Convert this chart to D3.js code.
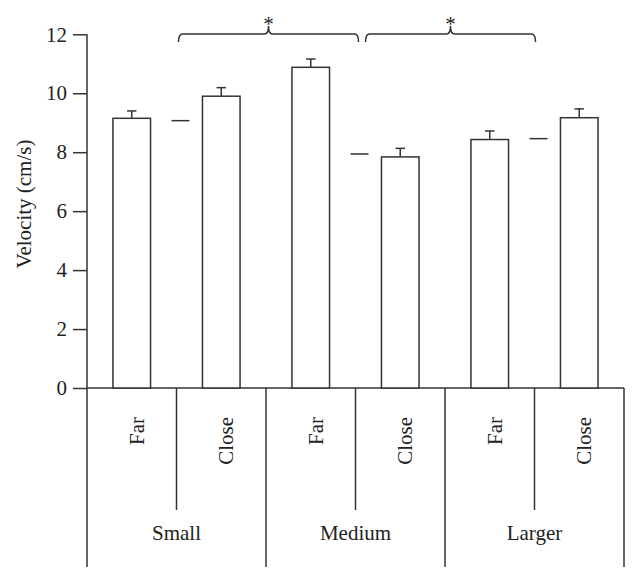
<!DOCTYPE html>
<html>
<head>
<meta charset="utf-8">
<script src="https://cdn.jsdelivr.net/npm/d3@7"></script>
<style>
  html, body { margin: 0; padding: 0; background: #fff; }
  text { font-family: "Liberation Serif", "Times New Roman", serif; fill: #222; }
</style>
</head>
<body>
<svg id="chart" width="639" height="584"></svg>
<script>
// ---- data ----
const sizes = ["Small", "Medium", "Larger"];
const distances = ["Far", "Close"];
const barLabels = ["Far", "Close", "Far", "Close", "Far", "Close"];
const barMeans = [9.15, 9.9, 10.88, 7.84, 8.43, 9.17];
const barErrors = [0.25, 0.29, 0.28, 0.29, 0.29, 0.30];
const groupMeans = [9.07, 7.94, 8.46];
const yTicks = [0, 2, 4, 6, 8, 10, 12];
const yLabel = "Velocity (cm/s)";
const sigPairs = [[0, 1], [1, 2]];   // brackets between group means
const sigLabel = "*";

// ---- layout ----
(function () {
const svg = d3.select("#chart");
const stroke = "#333";
const L = 87, R = 624, T = 34.3, B = 388;
const fs = 21;

const y = d3.scaleLinear().domain([0, 12]).range([B, T]);
const xBand = d3.scaleBand().domain(d3.range(barMeans.length)).range([L, R]).padding(0);
const xGroup = d3.scaleBand().domain(sizes).range([L, R]).padding(0);
const bw = xBand.bandwidth() * 0.42;
const bx = i => xBand(i) + xBand.bandwidth() / 2;

// y axis
const yAxis = d3.axisLeft(y).tickValues(yTicks).tickSize(14).tickPadding(6).tickFormat(d3.format("d"));
const gy = svg.append("g").attr("transform", `translate(${L},0)`).call(yAxis);
gy.select(".domain").attr("stroke", stroke).attr("stroke-width", 1.5).attr("d", `M0,${B}V${T}`);
gy.selectAll(".tick line").attr("stroke", stroke).attr("stroke-width", 1.5);
gy.selectAll(".tick text").style("font-family", "Liberation Serif, serif").style("font-size", fs + "px").attr("fill", "#222");

// y label
svg.append("text")
  .attr("transform", `translate(31,204) rotate(-90)`)
  .attr("text-anchor", "middle")
  .style("font-size", fs + "px")
  .text(yLabel);

// baseline
svg.append("line").attr("x1", L).attr("x2", R).attr("y1", B).attr("y2", B)
  .attr("stroke", stroke).attr("stroke-width", 1.5);

// bars
svg.append("g").selectAll("rect").data(barMeans).join("rect")
  .attr("x", (d, i) => bx(i) - bw / 2)
  .attr("y", d => y(d))
  .attr("width", bw)
  .attr("height", d => y(0) - y(d))
  .attr("fill", "#fff").attr("stroke", stroke).attr("stroke-width", 1.5);

// error bars
const eg = svg.append("g").attr("stroke", stroke).attr("stroke-width", 1.5);
barMeans.forEach((m, i) => {
  const cx = bx(i);
  eg.append("line").attr("x1", cx).attr("x2", cx).attr("y1", y(m)).attr("y2", y(m + barErrors[i]));
  eg.append("line").attr("x1", cx - 4.7).attr("x2", cx + 4.7).attr("y1", y(m + barErrors[i])).attr("y2", y(m + barErrors[i]));
});

// group mean dashes
const meanX = g => xGroup(g) + xGroup.bandwidth() / 2 + 4;
svg.append("g").selectAll("line").data(groupMeans).join("line")
  .attr("x1", (d, i) => meanX(sizes[i]) - 9)
  .attr("x2", (d, i) => meanX(sizes[i]) + 9)
  .attr("y1", d => y(d)).attr("y2", d => y(d))
  .attr("stroke", stroke).attr("stroke-width", 1.5);

// significance brackets
const by = 34, bEnd = 42, r = 4;
sigPairs.forEach(([a, b], k) => {
  const x0 = meanX(sizes[a]) + (k === 0 ? -2 : 6);
  const x1 = meanX(sizes[b]) + (k === 0 ? -1 : -3);
  const xm = (x0 + x1) / 2;
  const p = `M${x0},${bEnd} Q${x0},${by} ${x0 + r},${by} L${xm - r},${by} Q${xm},${by} ${xm},${by - 8}` +
            ` Q${xm},${by} ${xm + r},${by} L${x1 - r},${by} Q${x1},${by} ${x1},${bEnd}`;
  svg.append("path").attr("d", p).attr("fill", "none").attr("stroke", stroke).attr("stroke-width", 1.5);
  svg.append("text").attr("x", xm).attr("y", 31).attr("text-anchor", "middle")
    .style("font-size", fs + "px").text(sigLabel);
});

// category table below axis
const tg = svg.append("g").attr("stroke", stroke).attr("stroke-width", 1.5);
sizes.forEach(s => {
  tg.append("line").attr("x1", xGroup(s)).attr("x2", xGroup(s)).attr("y1", B).attr("y2", 567);
  const mid = xGroup(s) + xGroup.bandwidth() / 2;
  tg.append("line").attr("x1", mid).attr("x2", mid).attr("y1", B).attr("y2", 510);
  svg.append("text").attr("x", mid).attr("y", 540).attr("text-anchor", "middle")
    .style("font-size", fs + "px").text(s);
});
tg.append("line").attr("x1", R).attr("x2", R).attr("y1", B).attr("y2", 567);

barLabels.forEach((lab, i) => {
  svg.append("text")
    .attr("transform", `translate(${bx(i) + 12},417) rotate(-90)`)
    .attr("text-anchor", "end")
    .style("font-size", fs + "px")
    .text(lab);
});
})();
</script>
</body>
</html>
